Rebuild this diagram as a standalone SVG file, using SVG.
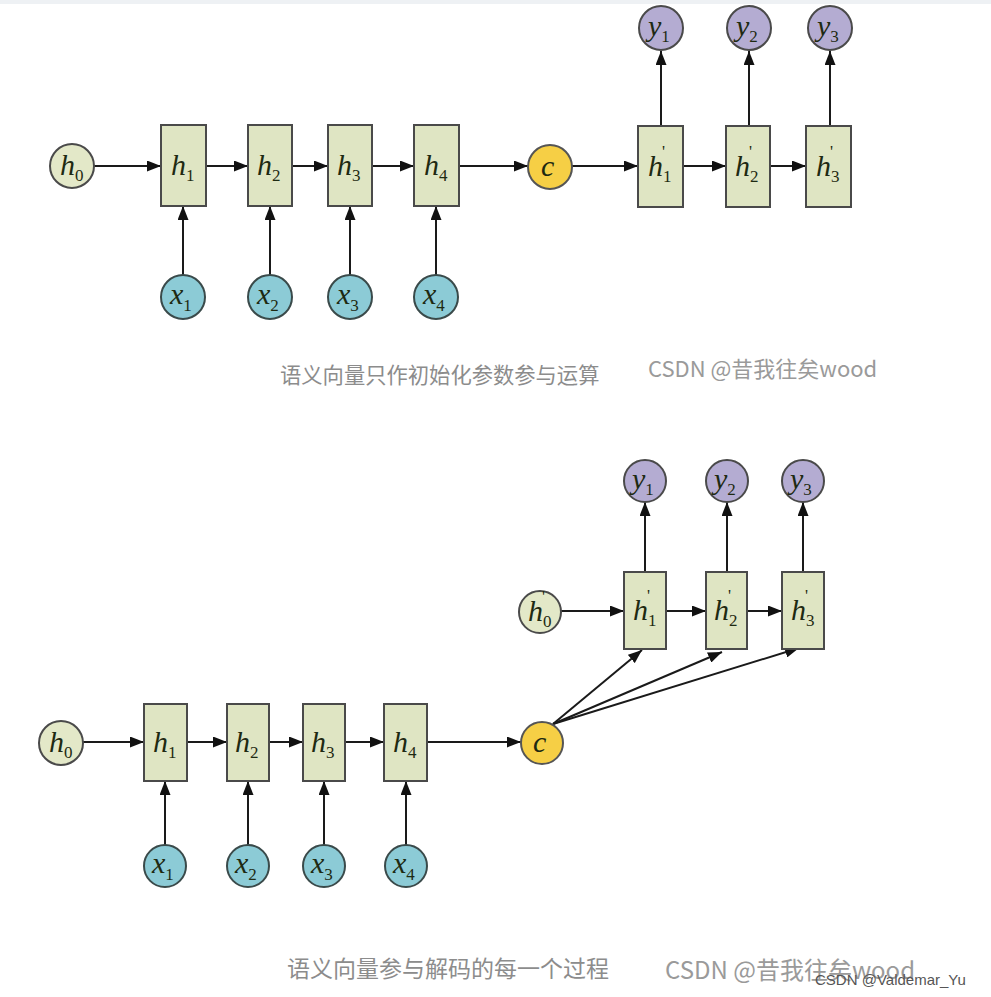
<svg xmlns="http://www.w3.org/2000/svg" width="991" height="997" viewBox="0 0 991 997">
<defs>
<marker id="a" viewBox="0 0 14 11" refX="14" refY="5.5" markerWidth="14" markerHeight="11" orient="auto" markerUnits="userSpaceOnUse"><path d="M0,0 L14,5.5 L0,11 z" fill="#111"/></marker>
</defs>
<style>
.box{fill:#dfe5c3;stroke:#4a4a4a;stroke-width:2}
.hc{fill:#e3e8c8;stroke:#4a4a4a;stroke-width:2}
.xc{fill:#8ccbd6;stroke:#3a4a4a;stroke-width:2}
.yc{fill:#b4acd2;stroke:#4a4a4a;stroke-width:2}
.cc{fill:#f6cf45;stroke:#555;stroke-width:2}
.m{font-family:"Liberation Serif",serif;font-style:italic;font-size:30px;fill:#1e2a12}
.s{font-family:"Liberation Serif",serif;font-style:normal;font-size:17px}
.p{font-family:"Liberation Serif",serif;font-style:normal;font-size:17px;fill:#1e2a12}
.ln{stroke:#1a1a1a;stroke-width:2;fill:none;marker-end:url(#a)}
.cap{font-family:"Noto Sans CJK SC","Noto Sans",sans-serif;font-size:21px;fill:#8c8c8c}
.wm{font-family:"Noto Sans CJK SC","Noto Sans",sans-serif;font-size:22px;fill:#9a9a9a}
</style>
<rect x="0" y="0" width="991" height="997" fill="#ffffff"/>
<rect x="0" y="0" width="991" height="4" fill="#eef1f4"/>

<g id="connectors">
<line class="ln" x1="94" y1="166" x2="161" y2="166"/>
<line class="ln" x1="206" y1="166" x2="248" y2="166"/>
<line class="ln" x1="292" y1="166" x2="328" y2="166"/>
<line class="ln" x1="372" y1="166" x2="414" y2="166"/>
<line class="ln" x1="459" y1="166" x2="528" y2="166"/>
<line class="ln" x1="572" y1="166" x2="638" y2="166"/>
<line class="ln" x1="683" y1="166" x2="726" y2="166"/>
<line class="ln" x1="770" y1="166" x2="806" y2="166"/>
<line class="ln" x1="183" y1="275" x2="183" y2="206"/>
<line class="ln" x1="270" y1="275" x2="270" y2="206"/>
<line class="ln" x1="350" y1="275" x2="350" y2="206"/>
<line class="ln" x1="436" y1="275" x2="436" y2="206"/>
<line class="ln" x1="661" y1="126" x2="661" y2="51"/>
<line class="ln" x1="749" y1="126" x2="749" y2="51"/>
<line class="ln" x1="830" y1="126" x2="830" y2="51"/>

<line class="ln" x1="83" y1="742" x2="144" y2="742"/>
<line class="ln" x1="187" y1="742" x2="227" y2="742"/>
<line class="ln" x1="269" y1="742" x2="303" y2="742"/>
<line class="ln" x1="345" y1="742" x2="384" y2="742"/>
<line class="ln" x1="427" y1="742" x2="521" y2="742"/>
<line class="ln" x1="165" y1="845" x2="165" y2="781"/>
<line class="ln" x1="248" y1="845" x2="248" y2="781"/>
<line class="ln" x1="324" y1="845" x2="324" y2="781"/>
<line class="ln" x1="406" y1="845" x2="406" y2="781"/>
<line class="ln" x1="561" y1="611" x2="624" y2="611"/>
<line class="ln" x1="666" y1="611" x2="706" y2="611"/>
<line class="ln" x1="747" y1="611" x2="782" y2="611"/>
<line class="ln" x1="645" y1="572" x2="645" y2="502"/>
<line class="ln" x1="727" y1="572" x2="727" y2="502"/>
<line class="ln" x1="803" y1="572" x2="803" y2="502"/>
<line class="ln" x1="553" y1="724" x2="642" y2="650"/>
<line class="ln" x1="553" y1="724" x2="722" y2="652"/>
<line class="ln" x1="553" y1="724" x2="799" y2="648"/>
</g>

<!-- top diagram -->
<g id="t_h0"><circle class="hc" cx="72" cy="166" r="22"/><text class="m" x="60" y="175">h<tspan class="s" dy="6">0</tspan></text></g>
<g id="t_h1"><rect class="box" x="161" y="125" width="45" height="81"/><text class="m" x="171" y="175">h<tspan class="s" dy="6">1</tspan></text></g>
<g id="t_h2"><rect class="box" x="248" y="125" width="44" height="81"/><text class="m" x="257" y="175">h<tspan class="s" dy="6">2</tspan></text></g>
<g id="t_h3"><rect class="box" x="328" y="125" width="44" height="81"/><text class="m" x="337" y="175">h<tspan class="s" dy="6">3</tspan></text></g>
<g id="t_h4"><rect class="box" x="414" y="125" width="45" height="81"/><text class="m" x="424" y="175">h<tspan class="s" dy="6">4</tspan></text></g>
<g id="t_x1"><circle class="xc" cx="183" cy="297" r="22"/><text class="m" x="170" y="304">x<tspan class="s" dy="7">1</tspan></text></g>
<g id="t_x2"><circle class="xc" cx="270" cy="297" r="22"/><text class="m" x="257" y="304">x<tspan class="s" dy="7">2</tspan></text></g>
<g id="t_x3"><circle class="xc" cx="350" cy="297" r="22"/><text class="m" x="337" y="304">x<tspan class="s" dy="7">3</tspan></text></g>
<g id="t_x4"><circle class="xc" cx="436" cy="297" r="22"/><text class="m" x="423" y="304">x<tspan class="s" dy="7">4</tspan></text></g>
<g id="t_c"><circle class="cc" cx="550" cy="167" r="22"/><text class="m" x="541" y="176">c</text></g>
<g id="t_hp1"><rect class="box" x="638" y="126" width="45" height="81"/><text class="m" x="648" y="176">h<tspan class="s" dy="6">1</tspan></text><text class="p" x="662" y="157">'</text></g>
<g id="t_hp2"><rect class="box" x="726" y="126" width="44" height="81"/><text class="m" x="735" y="176">h<tspan class="s" dy="6">2</tspan></text><text class="p" x="749" y="157">'</text></g>
<g id="t_hp3"><rect class="box" x="806" y="126" width="45" height="81"/><text class="m" x="816" y="176">h<tspan class="s" dy="6">3</tspan></text><text class="p" x="830" y="157">'</text></g>
<g id="t_y1"><circle class="yc" cx="661" cy="28" r="22"/><text class="m" x="648" y="36">y<tspan class="s" dy="6">1</tspan></text></g>
<g id="t_y2"><circle class="yc" cx="749" cy="28" r="22"/><text class="m" x="736" y="36">y<tspan class="s" dy="6">2</tspan></text></g>
<g id="t_y3"><circle class="yc" cx="830" cy="28" r="22"/><text class="m" x="817" y="36">y<tspan class="s" dy="6">3</tspan></text></g>

<text class="cap" x="280" y="383" style="font-size:21.3px">语义向量只作初始化参数参与运算</text>
<text class="wm" x="648" y="377">CSDN @昔我往矣wood</text>

<!-- bottom diagram -->
<g id="b_h0"><circle class="hc" cx="61" cy="743" r="22"/><text class="m" x="49" y="752">h<tspan class="s" dy="6">0</tspan></text></g>
<g id="b_h1"><rect class="box" x="144" y="704" width="43" height="77"/><text class="m" x="153" y="752">h<tspan class="s" dy="6">1</tspan></text></g>
<g id="b_h2"><rect class="box" x="227" y="704" width="42" height="77"/><text class="m" x="235" y="752">h<tspan class="s" dy="6">2</tspan></text></g>
<g id="b_h3"><rect class="box" x="303" y="704" width="42" height="77"/><text class="m" x="311" y="752">h<tspan class="s" dy="6">3</tspan></text></g>
<g id="b_h4"><rect class="box" x="384" y="704" width="43" height="77"/><text class="m" x="393" y="752">h<tspan class="s" dy="6">4</tspan></text></g>
<g id="b_x1"><circle class="xc" cx="165" cy="866" r="21"/><text class="m" x="152" y="873">x<tspan class="s" dy="7">1</tspan></text></g>
<g id="b_x2"><circle class="xc" cx="248" cy="866" r="21"/><text class="m" x="235" y="873">x<tspan class="s" dy="7">2</tspan></text></g>
<g id="b_x3"><circle class="xc" cx="324" cy="866" r="21"/><text class="m" x="311" y="873">x<tspan class="s" dy="7">3</tspan></text></g>
<g id="b_x4"><circle class="xc" cx="406" cy="866" r="21"/><text class="m" x="393" y="873">x<tspan class="s" dy="7">4</tspan></text></g>
<g id="b_c"><circle class="cc" cx="542" cy="743" r="21"/><text class="m" x="533" y="752">c</text></g>
<g id="b_hp0"><circle class="hc" cx="540" cy="612" r="21"/><text class="m" x="528" y="621">h<tspan class="s" dy="6">0</tspan></text><text class="p" x="542" y="602">'</text></g>
<g id="b_hp1"><rect class="box" x="624" y="572" width="42" height="77"/><text class="m" x="633" y="620">h<tspan class="s" dy="6">1</tspan></text><text class="p" x="647" y="601">'</text></g>
<g id="b_hp2"><rect class="box" x="706" y="572" width="41" height="77"/><text class="m" x="714" y="620">h<tspan class="s" dy="6">2</tspan></text><text class="p" x="728" y="601">'</text></g>
<g id="b_hp3"><rect class="box" x="782" y="572" width="42" height="77"/><text class="m" x="791" y="620">h<tspan class="s" dy="6">3</tspan></text><text class="p" x="805" y="601">'</text></g>
<g id="b_y1"><circle class="yc" cx="645" cy="481" r="21"/><text class="m" x="632" y="489">y<tspan class="s" dy="6">1</tspan></text></g>
<g id="b_y2"><circle class="yc" cx="727" cy="481" r="21"/><text class="m" x="714" y="489">y<tspan class="s" dy="6">2</tspan></text></g>
<g id="b_y3"><circle class="yc" cx="803" cy="481" r="21"/><text class="m" x="790" y="489">y<tspan class="s" dy="6">3</tspan></text></g>

<text class="cap" x="287" y="977" style="font-size:23px">语义向量参与解码的每一个过程</text>
<text class="wm" x="665" y="979" style="font-size:24px">CSDN @昔我往矣wood</text>
<text x="815" y="985" style="font-family:'Liberation Sans',sans-serif;font-size:15px;fill:#555">CSDN @Valdemar_Yu</text>
</svg>
